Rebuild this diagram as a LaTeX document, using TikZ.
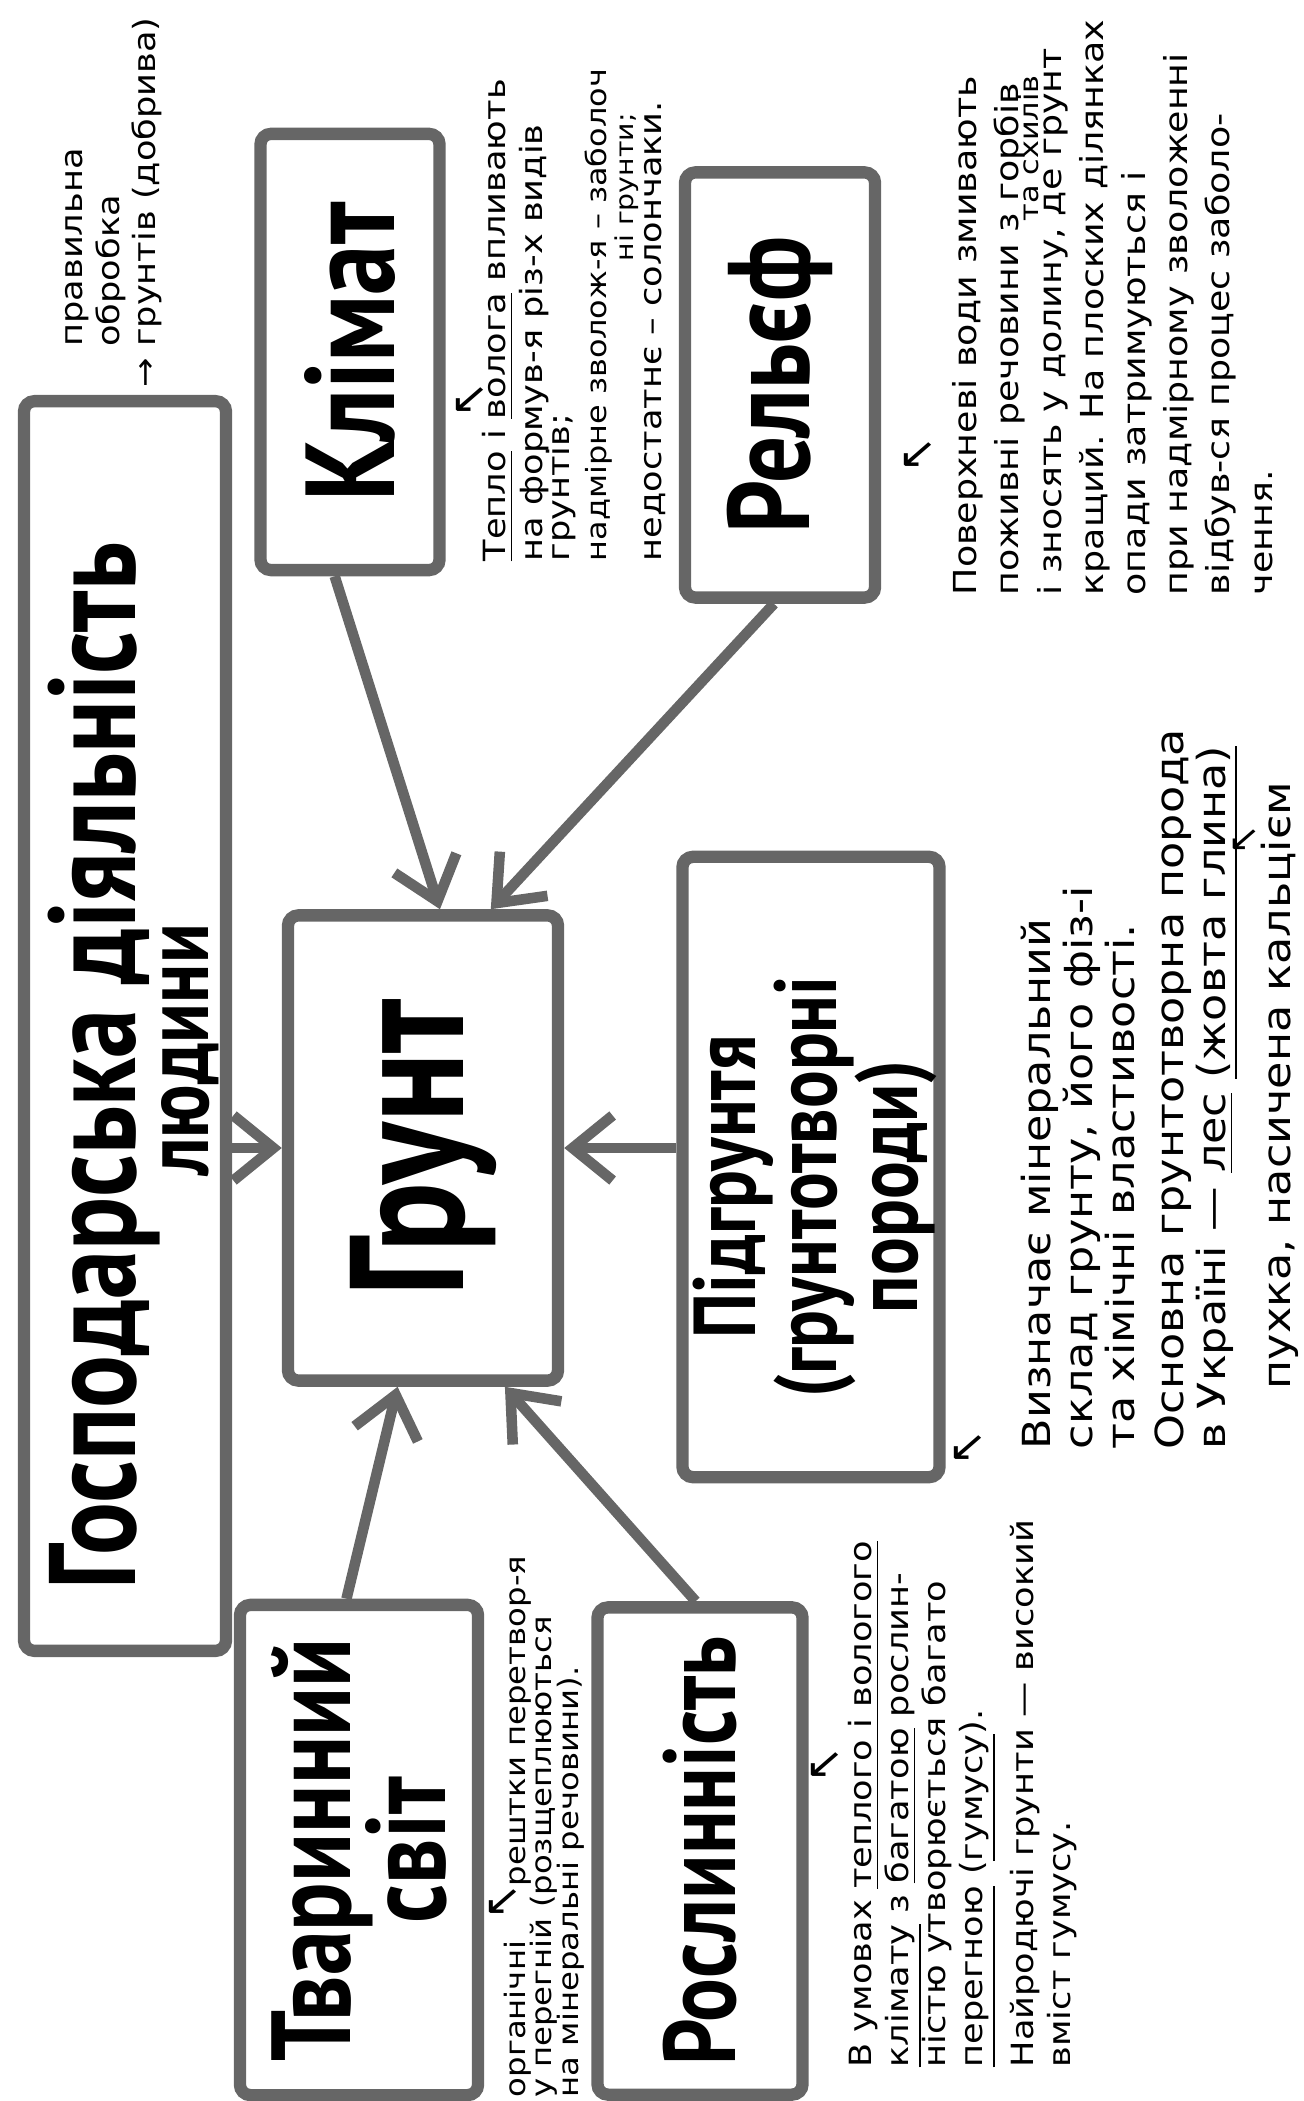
\documentclass[tikz,border=0pt]{standalone}
\usepackage{fontspec}
\setmainfont{DejaVu Sans}
\newfontfamily\boxfont[FakeStretch=0.8]{PT Sans}
\newfontfamily\notefont[FakeStretch=1.15]{DejaVu Sans}
\usetikzlibrary{arrows.meta,calc}
\setlength{\lineskiplimit}{-50pt}

\begin{document}
\begin{tikzpicture}[x=0.01cm, y=-0.01cm,
    box/.style={draw=black!60, line width=3.5pt, rounded corners=3pt, rotate=90, inner sep=0pt, align=center},
    lbl/.style 2 args={font=\boxfont\bfseries\fontsize{#1}{#2}\selectfont},
    note/.style={rotate=90, anchor=north west, inner sep=0pt, align=left},
    txt/.style 2 args={font=\notefont\fontsize{#1}{#2}\selectfont},
    hint/.style={inner sep=0pt, font=\notefont\fontsize{12}{12}\selectfont},
    arr/.style={draw=black!60, line width=3pt, -{Straight Barb[length=4mm,width=6.5mm]}}]
    \useasboundingbox (0,0) rectangle (1303,2101);

    \node[box, minimum width=12.49cm, minimum height=2.02cm] (gosp) at (125,1026) {};
    \node[rotate=90, inner sep=0pt, lbl={35}{35}] (gosptxt) at (104,1066) {Господарська діяльність};
    \node[rotate=90, inner sep=0pt, lbl={26}{26}] (gosptxt2) at (190,1050) {людини};
    \node[box, lbl={36}{36}, minimum width=4.36cm, minimum height=1.79cm] (kl) at (350,352) {Клімат};
    \node[box, lbl={33}{33}, minimum width=4.25cm, minimum height=1.90cm] (rel) at (780,385) {Рельєф};
    \node[box, lbl={46}{46}, minimum width=4.65cm, minimum height=2.70cm] (grunt) at (423,1148) {Грунт};
    \node[box, minimum width=6.20cm, minimum height=2.57cm] (pidgr) at (811,1167) {};
    \node[rotate=90, inner sep=0pt, align=center, lbl={25}{23}] (pidtxt) at (815,1187) {Підгрунтя\\(грунтотворні\\породи)};
    \node[box, lbl={32}{27}, minimum width=4.90cm, minimum height=2.38cm] (tvar) at (359,1850) {Тваринний\\світ};
    \node[box, lbl={29}{29}, minimum width=4.87cm, minimum height=2.05cm] (rosl) at (700,1851) {Рослинність};

    \draw[arr] ($(kl.north west)!0.42!(kl.south west)$) -- ($(grunt.north east)!0.56!(grunt.south east)$);
    \draw[arr] ($(rel.north west)!0.47!(rel.south west)$) -- ($(grunt.north east)!0.74!(grunt.south east)$);
    \draw[arr] (gosp.south |- grunt.north) -- (grunt.north);
    \draw[arr] (pidgr.north |- grunt.south) -- (grunt.south);
    \draw[arr] ($(tvar.north east)!0.45!(tvar.south east)$) -- ($(grunt.north west)!0.41!(grunt.south west)$);
    \draw[arr] ($(rosl.north east)!0.48!(rosl.south east)$) -- ($(grunt.north west)!0.79!(grunt.south west)$);

    \node[note, txt={8.7}{10.3}] (obrob) at (65,388) {\phantom{→ }правильна\\\phantom{→ }обробка\\→ грунтів (добрива)};
    \node[note, txt={8.7}{10.5}] (klnote) at (482,562) {\underline{Тепло} і \underline{волога} впливають\\на формув-я різ-х видів\\[-2.9pt]грунтів;\\{\fontsize{7.9}{10.5}\selectfont надмірне зволож-я – заболоч}\\[5pt]недостатнє – солончаки.};
    \node[note, txt={7}{8}] (klnote2) at (614,262) {ні грунти;};
    \node[note, txt={9}{12}] (relnote) at (952,596) {Поверхневі води змивають\\поживні речовини з горбів\\і зносять у долину, де грунт\\кращий. На плоских ділянках\\опади затримуються і\\при надмірному зволоженні\\відбув-ся процес заболо-\\чення.};
    \node[note, txt={7.5}{8}] (relnote2) at (1018,222) {та схилів};
    \node[note, txt={11}{12}] (pidnote) at (1020,1450) {Визначає мінеральний\\склад грунту, його фіз-і\\та хімічні властивості.\\[2pt]Основна грунтотворна порода\\в Україні — \underline{лес} \underline{(жовта глина)}};
    \node[note, txt={11}{12}] (puhka) at (1260,1390) {пухка, насичена кальцієм};
    \node[note, txt={8}{7.6}] (tvnote) at (503,2098) {органічні \hspace{1.2em} рештки перетвор-я\\у перегній (розщеплюються\\на мінеральні речовини).};
    \node[note, txt={8.7}{10.5}] (rosnote) at (848,2068) {В умовах \underline{теплого і вологого}\\\underline{клімату} з \underline{багатою} рослин-\\ністю утворюється багато\\\underline{перегною} (\underline{гумусу}).\\[4pt]Найродючі грунти — високий\\вміст гумусу.};

    \node[hint] (m1) at (470,400) {↙};
    \node[hint] (m2) at (918,455) {↙};
    \node[hint] (m3) at (968,1448) {↙};
    \node[hint, font=\notefont\fontsize{10}{10}\selectfont] (m4) at (1244,840) {↙};
    \node[hint] (m5) at (503,1902) {↙};
    \node[hint] (m6) at (825,1765) {↙};
\end{tikzpicture}
\end{document}
